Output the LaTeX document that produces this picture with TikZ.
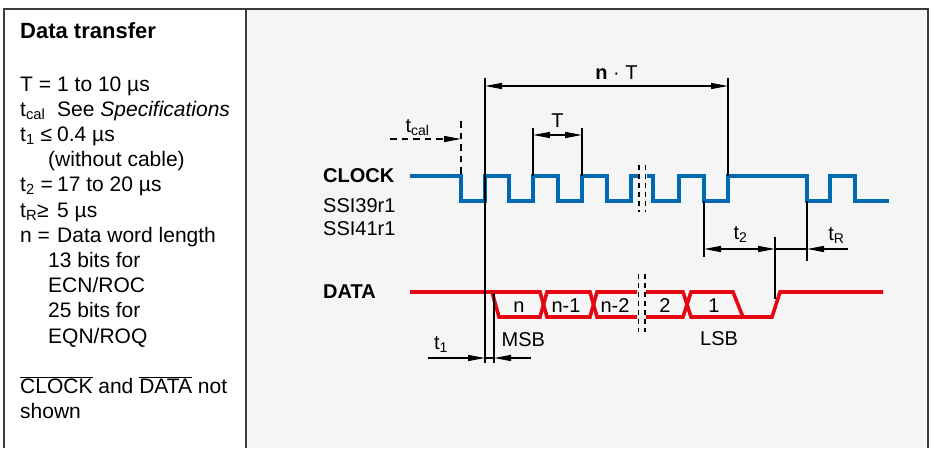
\documentclass[tikz,border=0pt]{standalone}
\usepackage{fontspec}
\setmainfont{Liberation Sans}
\usepackage{tikz}
\usetikzlibrary{positioning,arrows.meta}
\definecolor{taktblau}{HTML}{0069B4}
\definecolor{datenrot}{HTML}{E30613}
\definecolor{feldgrau}{HTML}{F5F5F5}
\definecolor{rahmengrau}{HTML}{3C3C3C}

\begin{document}
\begin{tikzpicture}[
  x=1pt, y=-1pt,
  font=\fontsize{21}{25}\selectfont,
  txt/.style={anchor=base west, inner sep=0pt},
  sig/.style={anchor=base west, inner sep=0pt, font=\fontsize{20}{24}\selectfont},
  mtxt/.style={anchor=base, inner sep=0pt, font=\fontsize{20}{24}\selectfont},
  mass/.style={draw=black, line width=1.3pt},
  pf/.style={mass, -{Triangle[length=17pt, width=6pt]}},
  dpf/.style={mass, {Triangle[length=17pt, width=6pt]}-{Triangle[length=17pt, width=6pt]}},
  gestr/.style={draw=black, line width=1.3pt, dash pattern=on 6.5pt off 5pt},
  brk/.style={draw=black, line width=1.2pt, dash pattern=on 5pt off 4pt},
  takt/.style={draw=taktblau, line width=3.6pt},
  daten/.style={draw=datenrot, line width=3.6pt}
]
\useasboundingbox (0,0) rectangle (933,448);
\fill[feldgrau] (246,9) rectangle (928,448);
\draw[rahmengrau, line width=1.5pt] (4,448) -- (4,9) (928,9) -- (928,448);
\draw[rahmengrau, line width=2.2pt] (3.25,9) -- (928.75,9);
\draw[rahmengrau, line width=1.2pt] (246,9) -- (246,448);

\node[txt, font=\fontsize{22}{26}\selectfont\bfseries] (titel) at (20,38) {Data transfer};
\node[txt] (sT) at (20,91) {T\ =};
\node[txt] (vT) at (57,91) {1 to 10 µs};
\node[txt] (scal) at (20,116.2) {t\textsubscript{cal}};
\node[txt] (vcal) at (57,116.2) {See \textit{Specifications}};
\node[txt] (s1) at (20,141.4) {t\textsubscript{1} ≤};
\node[txt] (v1) at (57,141.4) {0.4 µs};
\node[txt] (v1b) at (48,166.6) {(without cable)};
\node[txt] (s2) at (20,191.8) {t\textsubscript{2} =};
\node[txt] (v2) at (57,191.8) {17 to 20 µs};
\node[txt] (sR) at (20,217) {t\textsubscript{R}≥};
\node[txt] (vR) at (57,217) {5 µs};
\node[txt] (sn) at (20,242.2) {n\ =};
\node[txt] (vn) at (57,242.2) {Data word length};
\node[txt] (vnb) at (48,267.4) {13 bits for};
\node[txt] (vnc) at (48,292.6) {ECN/ROC};
\node[txt] (vnd) at (48,317.8) {25 bits for};
\node[txt] (vne) at (48,343) {EQN/ROQ};
\node[txt] (inv) at (20,393.4) {$\overline{\mbox{CLOCK}}$ and $\overline{\mbox{DATA}}$ not};
\node[txt] (invb) at (20,418.6) {shown};

\node[sig, font=\fontsize{20}{24}\selectfont\bfseries] (clock) at (323,182) {CLOCK};
\node[sig] (ssi39) at (323,212) {SSI39r1};
\node[sig] (ssi41) at (323,235.5) {SSI41r1};
\node[sig, font=\fontsize{20}{24}\selectfont\bfseries] (data) at (323,298) {DATA};

\draw[takt] (410,176) -| (461,201) -| (485,176) -| (509,201) -| (533,176) -| (558,201) -| (582,176) -| (607,201) -| (631,176) -- (638,176);
\draw[takt] (647,176) -| (653,201) -| (679,176) -| (704,201) -| (728,176) -| (807,201) -| (830,176) -| (855,201) -- (889,201);

\draw[daten] (410,292) -- (540,292) -- (547,317) -- (590,317) -- (597,292) -- (637,292);
\draw[daten] (492,292) -- (499,317) -- (540,317) -- (547,292) -- (590,292) -- (597,317) -- (637,317);
\draw[daten] (646,292) -- (683,292) -- (691,317) -- (772,317) -- (780,292) -- (883,292);
\draw[daten] (646,317) -- (683,317) -- (691,292) -- (733,292) -- (743,317);

\node[mtxt] (bn) at (519,312) {n};
\node[mtxt] (bn1) at (566,312) {n-1};
\node[mtxt] (bn2) at (615,312) {n-2};
\node[mtxt] (b2) at (665,312) {2};
\node[mtxt] (b1) at (714,312) {1};
\node[sig] (msb) at (501.5,346) {MSB};
\node[sig] (lsb) at (700,345) {LSB};

\coordinate (k0o) at (485,78);
\coordinate (k0u) at (485,363);
\coordinate (k1o) at (728,78);
\coordinate (k1u) at (728,176);
\coordinate (nTa) at (485,86);
\coordinate (nTb) at (728,86);
\draw[mass] (k0o) -- (k0u);
\draw[mass] (k1o) -- (k1u);
\draw[dpf] (nTa) -- (nTb);
\node[mtxt] (nT) at (616.5,79) {\textbf{n} · T};

\coordinate (Ta) at (533,128);
\coordinate (Tb) at (582,128);
\draw[mass] (Ta) -- (533,176);
\draw[mass] (Tb) -- (582,176);
\draw[dpf] (533,135) -- (582,135);
\node[mtxt] (Tlab) at (557.5,127) {T};

\coordinate (cala) at (461,121);
\coordinate (calb) at (461,176);
\coordinate (calc) at (390,139);
\draw[gestr] (cala) -- (calb);
\draw[gestr, -{Triangle[length=17pt, width=6pt]}] (calc) -- (461,139);
\node[mtxt] (cal) at (417.5,132) {t\textsubscript{cal}};

\coordinate (d2a) at (704,201);
\coordinate (d2b) at (704,257);
\coordinate (dRa) at (775,237);
\coordinate (dRb) at (775,299);
\coordinate (dRc) at (807,201);
\coordinate (dRd) at (807,261);
\coordinate (dRe) at (848,249);
\draw[mass] (d2a) -- (d2b);
\draw[mass] (dRa) -- (dRb);
\draw[mass] (dRc) -- (dRd);
\draw[dpf] (704,249) -- (775,249);
\draw[mass] (775,249) -- (807,249);
\draw[pf] (dRe) -- (807,249);
\node[mtxt] (t2) at (740.5,239) {t\textsubscript{2}};
\node[mtxt] (tR) at (836.5,240) {t\textsubscript{R}};

\coordinate (d1a) at (494,293);
\coordinate (d1b) at (494,363);
\coordinate (d1l) at (428,358);
\coordinate (d1r) at (531,358);
\draw[mass] (d1a) -- (d1b);
\draw[pf] (d1l) -- (485,358);
\draw[mass] (485,358) -- (494,358);
\draw[pf] (d1r) -- (494,358);
\node[mtxt] (t1) at (441,349) {t\textsubscript{1}};

\draw[brk] (639,165) -- (639,212);
\draw[brk] (645.5,165) -- (645.5,212);
\draw[brk] (638.5,274) -- (638.5,332);
\draw[brk] (645,274) -- (645,332);
\end{tikzpicture}
\end{document}
